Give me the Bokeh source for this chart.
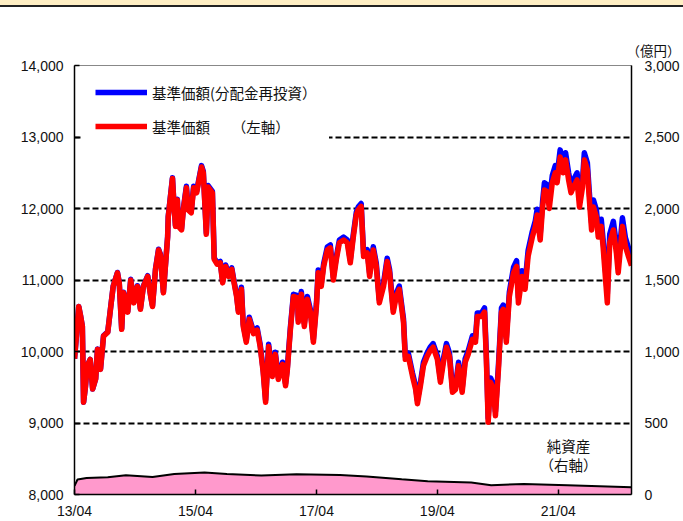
from bokeh.plotting import figure
from bokeh.models import (Range1d, LinearAxis, FixedTicker, NumeralTickFormatter,
                          Legend, LegendItem, Label, InlineStyleSheet)
from bokeh.core.properties import value
from bokeh.embed import file_html
from bokeh.resources import INLINE

# ---- data (decimal years) ----
dates = [
    2013.25, 2013.28, 2013.32, 2013.35, 2013.38, 2013.40, 2013.43, 2013.46, 2013.51, 2013.55,
    2013.60, 2013.63, 2013.68, 2013.73, 2013.80, 2013.85, 2013.89, 2013.96, 2013.99,
    2014.03, 2014.06, 2014.13, 2014.18, 2014.23, 2014.29, 2014.34, 2014.39, 2014.46, 2014.51,
    2014.54, 2014.59, 2014.64, 2014.67, 2014.72, 2014.79, 2014.80, 2014.87, 2014.89, 2014.92,
    2014.95, 2014.97,
    2015.02, 2015.05, 2015.10, 2015.13, 2015.18, 2015.22, 2015.27, 2015.30, 2015.35, 2015.38,
    2015.43, 2015.46, 2015.53, 2015.56, 2015.61, 2015.66, 2015.70, 2015.75, 2015.80, 2015.85,
    2015.88, 2015.93, 2015.96,
    2016.01, 2016.04, 2016.09, 2016.14, 2016.21, 2016.27, 2016.32, 2016.37, 2016.41, 2016.46,
    2016.52, 2016.57, 2016.62, 2016.69, 2016.74, 2016.77, 2016.82, 2016.87, 2016.94, 2016.95,
    2017.00, 2017.05, 2017.10, 2017.15, 2017.20, 2017.25, 2017.28, 2017.33, 2017.37, 2017.43,
    2017.48, 2017.53, 2017.58, 2017.63, 2017.70, 2017.76, 2017.81, 2017.86, 2017.91, 2017.94,
    2017.99,
    2018.03, 2018.09, 2018.13, 2018.19, 2018.24, 2018.29, 2018.36, 2018.42, 2018.46, 2018.52,
    2018.57, 2018.62, 2018.69, 2018.72, 2018.77, 2018.84, 2018.89, 2018.92, 2018.97,
    2019.02, 2019.08, 2019.13, 2019.18, 2019.25, 2019.30, 2019.35, 2019.40, 2019.45, 2019.50,
    2019.55, 2019.60, 2019.66, 2019.71, 2019.76, 2019.83, 2019.88, 2019.91, 2019.98,
    2020.03, 2020.06, 2020.09, 2020.13, 2020.18, 2020.21, 2020.26, 2020.31, 2020.34, 2020.39,
    2020.44, 2020.51, 2020.56, 2020.59, 2020.65, 2020.70, 2020.75, 2020.82, 2020.87, 2020.90,
    2020.95, 2020.99,
    2021.02, 2021.07, 2021.10, 2021.15, 2021.20, 2021.23, 2021.28, 2021.33, 2021.37, 2021.42,
    2021.46, 2021.50, 2021.56, 2021.60, 2021.65, 2021.68, 2021.73, 2021.76, 2021.80, 2021.83,
    2021.88, 2021.91, 2021.96, 2021.99,
    2022.04, 2022.06, 2022.10, 2022.16, 2022.21, 2022.24, 2022.31, 2022.36, 2022.41, 2022.46,
]

nav = [
    9900, 10200, 10630, 10500, 10350, 9290, 9500, 9800, 9890, 9475,
    9615, 10030, 9750, 10215, 10270, 10630, 10910, 11100, 10960,
    10310, 10820, 10550, 11000, 10680, 10910, 10590, 10910, 11050, 10770,
    10630, 11150, 11420, 11350, 10820, 11600, 11880, 12420, 12120, 11750,
    12120, 11750,
    11700, 11980, 12290, 11980, 11940, 12290, 12220, 12360, 12580, 12500,
    11640, 12300, 12220, 11290, 11220, 11240, 10960, 11190, 11050, 11150,
    11000, 10770, 10550,
    10870, 10350, 10130, 10450, 10250, 10300, 10070, 9710, 9290, 10070,
    9650, 9960, 9610, 9820, 9520, 9750, 10310, 10770, 10750, 10410,
    10800, 10350, 10730, 10550, 10130, 10630, 11100, 10910, 11190, 11420,
    11450, 11000, 11290, 11520, 11560, 11520, 11240, 11600, 11910, 11980,
    12030,
    11330, 11380, 11050, 11420, 11190, 10680, 10910, 11260, 11100, 10550,
    10770, 10870, 10410, 9890, 9930, 9650, 9475, 9270, 9520,
    9800, 9930, 10010, 10060, 9890, 9570, 9850, 10060, 9930, 9430,
    9470, 9800, 9430, 9850, 9960, 10170, 10130, 10490, 10490,
    10550, 9890, 9010, 9570, 9475, 9100, 9750, 10550, 10590, 10130,
    10770, 11100, 11190, 10680, 11050, 10870, 11330, 11600, 11750, 11910,
    11560, 12020,
    12260, 12230, 12000, 12360, 12500, 12360, 12720, 12500, 12680, 12400,
    12220, 12300, 12400, 12020, 12300, 12680, 12540, 12160, 11700, 12020,
    11880, 11600, 11750, 11470,
    10910, 10680, 11520, 11700, 11380, 11100, 11750, 11470, 11330, 11200,
]

nav_reinvest = [
    9900, 10200, 10630, 10500, 10350, 9290, 9500, 9800, 9890, 9475,
    9620, 10035, 9755, 10220, 10275, 10635, 10915, 11105, 10965,
    10320, 10830, 10560, 11010, 10690, 10920, 10600, 10920, 11060, 10780,
    10640, 11160, 11430, 11360, 10830, 11610, 11890, 12430, 12130, 11760,
    12130, 11760,
    11720, 12000, 12310, 12000, 11960, 12310, 12240, 12380, 12600, 12520,
    11660, 12320, 12240, 11310, 11240, 11260, 10980, 11210, 11070, 11170,
    11020, 10790, 10570,
    10900, 10380, 10160, 10480, 10280, 10330, 10100, 9740, 9320, 10100,
    9680, 9990, 9640, 9850, 9550, 9780, 10340, 10800, 10780, 10440,
    10840, 10390, 10770, 10590, 10170, 10670, 11140, 10950, 11230, 11460,
    11490, 11040, 11330, 11560, 11600, 11560, 11280, 11640, 11950, 12020,
    12070,
    11375, 11425, 11095, 11465, 11235, 10725, 10955, 11305, 11145, 10595,
    10815, 10915, 10455, 9935, 9975, 9695, 9520, 9315, 9565,
    9850, 9980, 10060, 10110, 9940, 9620, 9900, 10110, 9980, 9480,
    9520, 9850, 9480, 9900, 10010, 10220, 10180, 10540, 10540,
    10610, 9950, 9070, 9630, 9535, 9160, 9810, 10610, 10650, 10190,
    10830, 11180, 11270, 10760, 11130, 10950, 11410, 11680, 11830, 11990,
    11640, 12100,
    12360, 12330, 12100, 12460, 12600, 12460, 12820, 12600, 12780, 12500,
    12320, 12400, 12500, 12120, 12400, 12780, 12640, 12260, 11800, 12120,
    11980, 11700, 11850, 11570,
    11030, 10800, 11640, 11820, 11500, 11220, 11870, 11590, 11450, 11320,
]

na_dates = [2013.25, 2013.30, 2013.45, 2013.80, 2014.10, 2014.54, 2014.90, 2015.40, 2015.77,
            2016.34, 2016.92, 2017.64, 2018.08, 2018.66, 2019.09, 2019.81, 2020.14, 2020.68,
            2021.40, 2022.46]
net_assets = [60, 105, 116, 120, 135, 123, 144, 153, 144,
              133, 142, 137, 126, 107, 93, 84, 65, 74,
              65, 51]

x_ticks = [2013.25, 2015.25, 2017.25, 2019.25, 2021.25]
x_tick_labels = ["13/04", "15/04", "17/04", "19/04", "21/04"]
left_ticks = [8000, 9000, 10000, 11000, 12000, 13000, 14000]
grid_ticks = [9000, 10000, 11000, 12000, 13000]
right_ticks = [0, 500, 1000, 1500, 2000, 2500, 3000]

LBL_FONT = "Liberation Sans"
JP_FONT = "Noto Sans CJK JP"

p = figure(width=683, height=521, output_backend="svg", toolbar_location=None,
           x_range=Range1d(2013.25, 2022.46), y_range=Range1d(8000, 14000),
           min_border_left=74, min_border_right=52, min_border_top=65, min_border_bottom=25,
           background_fill_color="white", border_fill_color="white")
p.outline_line_color = "#888888"
p.outline_line_width = 1

# unit label above the right axis
p.title.text = "（億円）"
p.title.align = "right"
p.title.offset = -49
p.title.standoff = 12
p.title.text_font = JP_FONT
p.title.text_font_size = "13.5px"
p.title.text_font_style = "normal"
p.title.text_color = "#111111"

p.extra_y_ranges = {"right": Range1d(0, 3000)}

# grid
p.xgrid.visible = False
p.ygrid.ticker = FixedTicker(ticks=grid_ticks)
p.ygrid.grid_line_color = "black"
p.ygrid.grid_line_width = 2
p.ygrid.grid_line_dash = "6 3"

# axes
for ax in (p.xaxis[0], p.yaxis[0]):
    ax.axis_line_color = "black"
    ax.axis_line_width = 1.5
    ax.major_tick_in = 5
    ax.major_tick_out = 0
    ax.minor_tick_line_color = None
    ax.major_tick_line_color = "black"
    ax.major_tick_line_width = 1.5
    ax.major_label_text_font = LBL_FONT
    ax.major_label_text_font_size = "14px"
    ax.major_label_text_color = "#111111"

p.yaxis[0].ticker = FixedTicker(ticks=left_ticks)
p.yaxis[0].formatter = NumeralTickFormatter(format="0,0")
p.yaxis[0].major_label_standoff = 11
p.xaxis[0].ticker = FixedTicker(ticks=x_ticks)
p.xaxis[0].major_label_overrides = dict(zip(x_ticks, x_tick_labels))
p.xaxis[0].major_label_standoff = 8

ax_r = LinearAxis(y_range_name="right", ticker=FixedTicker(ticks=right_ticks),
                  formatter=NumeralTickFormatter(format="0,0"))
ax_r.axis_line_color = "black"
ax_r.axis_line_width = 1.5
ax_r.major_tick_in = 0
ax_r.major_tick_out = 0
ax_r.minor_tick_line_color = None
ax_r.major_label_standoff = 13
ax_r.major_label_text_font = LBL_FONT
ax_r.major_label_text_font_size = "14px"
ax_r.major_label_text_color = "#111111"
p.add_layout(ax_r, "right")

# net assets area (right axis)
p.varea(x=na_dates, y1=0, y2=net_assets, fill_color="#FF99CC", y_range_name="right")
p.line(na_dates, net_assets, line_color="black", line_width=2, y_range_name="right")

# NAV lines
rb = p.line(dates, nav_reinvest, line_color="#0000FF", line_width=5.5, line_join="round")
rr = p.line(dates, nav, line_color="#FF0000", line_width=5.5, line_join="round")

legend = Legend(items=[LegendItem(label=value("基準価額(分配金再投資）"), renderers=[rb]),
                       LegendItem(label=value("基準価額　　（左軸）"), renderers=[rr])],
                location=(8, 344), glyph_width=52, glyph_height=22, label_height=22,
                spacing=12, padding=12, margin=0,
                border_line_color="white", border_line_width=1, border_line_alpha=1.0,
                background_fill_color="white", background_fill_alpha=1.0,
                label_text_font=JP_FONT, label_text_font_size="14.5px",
                label_standoff=5, label_text_color="#111111")
p.add_layout(legend, "center")

p.add_layout(Label(x=2021.42, y=341, y_range_name="right", text="純資産", text_font=JP_FONT,
                   text_font_size="14.5px", text_baseline="middle", text_align="center",
                   text_color="#111111", level="overlay"))
p.add_layout(Label(x=2021.42, y=209, y_range_name="right", text="（右軸）", text_font=JP_FONT,
                   text_font_size="14.5px", text_baseline="middle", text_align="center",
                   text_color="#111111", level="overlay"))

p.stylesheets = [InlineStyleSheet(css=(
    ":host::before{content:'';position:fixed;left:0;top:0;width:683px;height:5px;"
    "background:#FFEFC4;border-bottom:2px solid #222;z-index:10;}"))]

open("out.html", "w").write(file_html(p, INLINE))
